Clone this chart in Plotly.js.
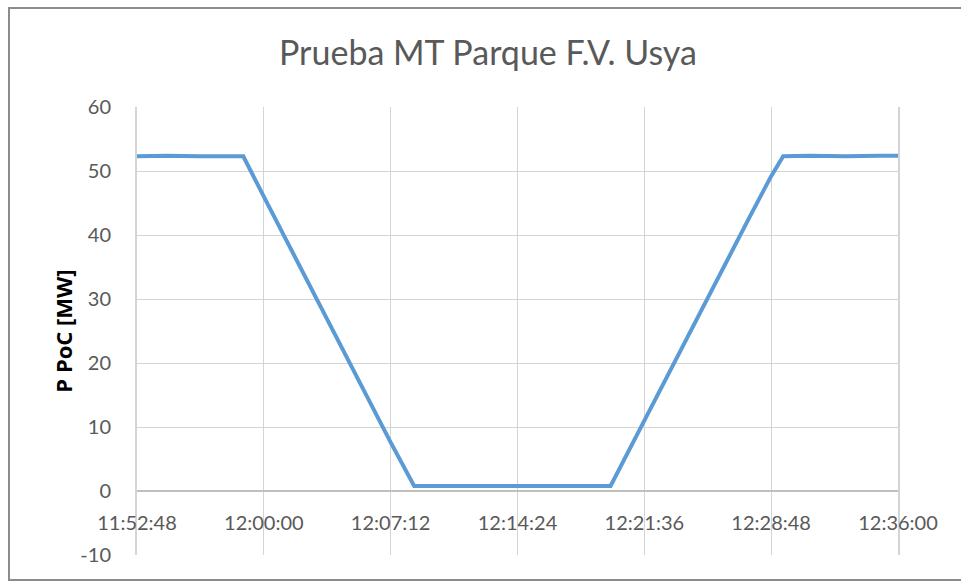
<!DOCTYPE html>
<html>
<head>
<meta charset="utf-8">
<script src="https://cdn.plot.ly/plotly-3.0.1.min.js"></script>
<style>
html,body{margin:0;padding:0;background:#fff;}
#wrap{position:relative;width:961px;height:583px;overflow:hidden;}
#chart{position:absolute;left:0;top:0;width:961px;height:583px;}
#frame{position:absolute;left:8px;top:7px;width:1000px;height:574px;border:2px solid #8c8c8c;border-right:none;pointer-events:none;box-sizing:border-box;}
</style>
</head>
<body>
<div id="wrap"><div id="chart"></div><div id="frame"></div></div>
<script>
// Time stamps (hh:mm:ss) and active power at the PoC [MW]
const times = [
  "11:52:48","11:54:30","11:56:20","11:58:00","11:58:50",
  "12:00:00","12:02:00","12:04:00","12:06:00","12:07:12","12:08:32",
  "12:11:00","12:14:24","12:17:00","12:19:41",
  "12:21:36","12:23:30","12:25:30","12:27:30","12:28:48","12:29:29",
  "12:31:00","12:33:00","12:35:00","12:36:00"
];
const pPoC = [
  52.3,52.4,52.3,52.4,52.3,
  46.0,35.3,24.7,14.0,7.6,0.8,
  0.8,0.8,0.8,0.8,
  11.0,21.2,31.8,42.4,49.2,52.3,
  52.4,52.3,52.4,52.4
];
const xTicks = ["11:52:48","12:00:00","12:07:12","12:14:24","12:21:36","12:28:48","12:36:00"];
const yTicks = [-10,0,10,20,30,40,50,60];

const day = "2020-01-01 ";
const xs = times.map(t => day + t);

const trace = {
  x: xs, y: pPoC, type: "scatter", mode: "lines",
  line: {color: "#5b9bd5", width: 4},
  hoverinfo: "skip"
};

const layout = {
  width: 961, height: 583,
  margin: {l: 137, r: 63, t: 107, b: 28},
  paper_bgcolor: "rgba(0,0,0,0)",
  plot_bgcolor: "#ffffff",
  showlegend: false,
  font: {family: "Lato, 'Open Sans', sans-serif", color: "#595959"},
  title: {
    text: "Prueba MT Parque F.V. Usya",
    font: {family: "Lato, 'Open Sans', sans-serif", size: 34, color: "#595959"},
    xref: "container", x: 488/961, xanchor: "center",
    yref: "container", y: 1 - 53/583, yanchor: "middle"
  },
  xaxis: {
    type: "date",
    range: [day + xTicks[0], day + xTicks[xTicks.length - 1]],
    tickvals: xTicks.map(t => day + t),
    ticktext: xTicks,
    anchor: "free",
    position: (0 - yTicks[0]) / (yTicks[yTicks.length - 1] - yTicks[0]),
    showline: true, linecolor: "#bfbfbf", linewidth: 2,
    showgrid: true, gridcolor: "#d4d4d4", gridwidth: 1,
    ticks: "outside", ticklen: 14, tickcolor: "rgba(0,0,0,0)",
    tickfont: {size: 20, color: "#595959"},
    zeroline: false, fixedrange: true
  },
  yaxis: {
    range: [yTicks[0], yTicks[yTicks.length - 1]],
    tickvals: yTicks,
    ticktext: yTicks.map(String),
    showline: true, linecolor: "#d4d4d4", linewidth: 2, mirror: true,
    showgrid: true, gridcolor: "#d4d4d4", gridwidth: 1,
    zeroline: false,
    ticks: "outside", ticklen: 20, tickcolor: "rgba(0,0,0,0)",
    tickfont: {size: 20, color: "#595959"},
    title: {text: "<b>P PoC [MW]</b>", font: {family: "'Open Sans', sans-serif", size: 22, color: "#000000"}, standoff: 2},
    fixedrange: true
  }
};

Plotly.newPlot("chart", [trace], layout, {displayModeBar: false, staticPlot: true});
</script>
</body>
</html>
